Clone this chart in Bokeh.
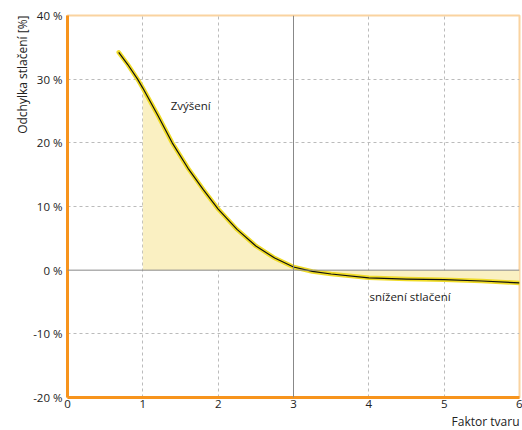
from bokeh.plotting import figure
from bokeh.models import FixedTicker, PrintfTickFormatter, Span, Label, Title
from bokeh.embed import file_html
from bokeh.resources import INLINE

shape_factor = [0.68, 0.8, 0.93, 1.0, 1.2, 1.39, 1.6, 1.8, 2.0, 2.25, 2.5, 2.75, 3.0, 3.25, 3.5, 4.0, 4.5, 5.0, 5.5, 6.0]
deviation = [34.2, 32.3, 30.0, 28.6, 24.3, 20.0, 16.0, 12.7, 9.6, 6.4, 3.8, 1.9, 0.5, -0.2, -0.6, -1.2, -1.4, -1.5, -1.7, -2.0]
x_ticks = [0, 1, 2, 3, 4, 5, 6]
y_ticks = [-20, -10, 0, 10, 20, 30, 40]

FONT = "Open Sans"
TXT = "#222222"

p = figure(width=522, height=430, x_range=(0, 6), y_range=(-20, 40),
           output_backend="svg", toolbar_location=None,
           min_border_left=67, min_border_right=3, min_border_top=15, min_border_bottom=33)
p.background_fill_color = "white"
p.outline_line_color = "#FAD3A0"
p.outline_line_width = 2

for ax in (p.xaxis[0], p.yaxis[0]):
    ax.axis_line_color = "#F7941D"
    ax.axis_line_width = 3
    ax.major_tick_line_color = None
    ax.minor_tick_line_color = None
    ax.major_tick_out = 0
    ax.major_tick_in = 0
    ax.major_label_text_font = FONT
    ax.major_label_text_font_size = "11.5px"
    ax.major_label_text_color = TXT
p.xaxis.ticker = FixedTicker(ticks=x_ticks)
p.yaxis.ticker = FixedTicker(ticks=y_ticks)
p.yaxis.formatter = PrintfTickFormatter(format="%d %%")
p.yaxis.major_label_standoff = 5
p.xaxis.major_label_standoff = 2

p.xgrid.ticker = FixedTicker(ticks=[1, 2, 4, 5])
p.ygrid.ticker = FixedTicker(ticks=[-10, 10, 20, 30])
p.grid.grid_line_color = "#BBBBBB"
p.grid.grid_line_dash = "3 3"
p.grid.grid_line_width = 1

# fill between curve and zero from x=1
fx = [x for x in shape_factor if x >= 1.0]
fy = [y for x, y in zip(shape_factor, deviation) if x >= 1.0]
p.varea(x=fx, y1=[0] * len(fx), y2=fy, fill_color="#FAF0C2", fill_alpha=1)

p.add_layout(Span(location=0, dimension="width", line_color="#888888", line_width=1))
p.add_layout(Span(location=3, dimension="height", line_color="#888888", line_width=1))

p.line(shape_factor, deviation, line_color="#F0DC28", line_width=4.5, line_cap="round", line_join="round")
p.line(shape_factor, deviation, line_color="#111111", line_width=1.2, line_join="round")

p.add_layout(Label(x=1.37, y=25.8, text="Zvýšení", text_font=FONT, text_font_size="11.5px",
                   text_color=TXT, text_baseline="middle"))
p.add_layout(Label(x=4.01, y=-4.2, text="snížení stlačení", text_font=FONT, text_font_size="11.5px",
                   text_color=TXT, text_baseline="middle"))

p.add_layout(Title(text="Odchylka stlačení [%]", align="right", standoff=0, offset=0,
                   text_font=FONT, text_font_size="12px", text_font_style="normal",
                   text_line_height=1.0, text_color=TXT), "left")
p.add_layout(Title(text="Faktor tvaru", align="right", standoff=0, offset=0,
                   text_font=FONT, text_font_size="12px", text_font_style="normal",
                   text_line_height=1.0, text_color=TXT), "below")

open("out.html", "w").write(file_html(p, INLINE))
